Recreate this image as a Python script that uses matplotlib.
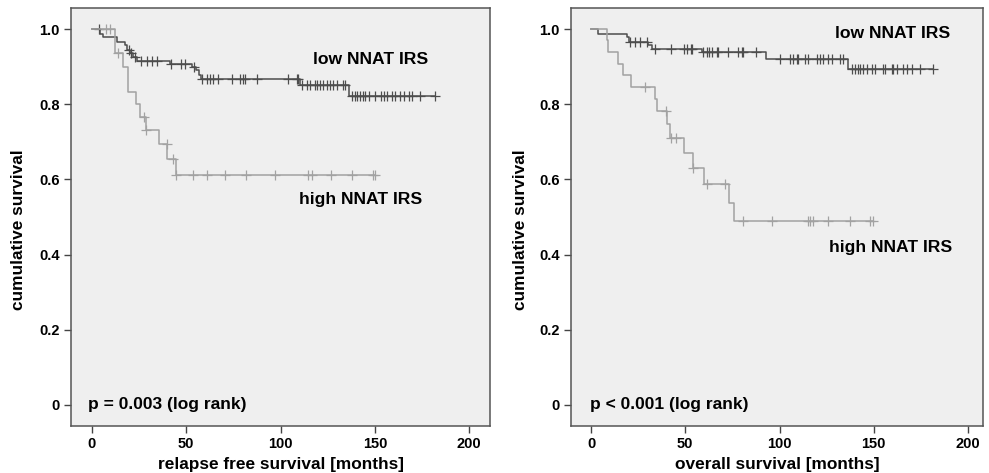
import numpy as np
import matplotlib.pyplot as plt

plt.rcParams['font.family'] = ['Liberation Sans', 'DejaVu Sans']
plt.rcParams['font.weight'] = 'bold'

# --- relapse free survival ---
rfs_low_t = [4.3, 6, 13.1, 17.5, 18.9, 20.5, 22, 24, 41.4, 53, 55, 57, 58, 110.3, 136.4]
rfs_low_s = [0.988, 0.980, 0.966, 0.957, 0.944, 0.935, 0.926, 0.915, 0.908, 0.899,
             0.890, 0.878, 0.867, 0.850, 0.823]
rfs_low_c = [3.9, 19.5, 21, 23, 26.3, 29, 31.7, 34.3, 42, 47.5, 49.5, 54, 58.2, 60.8, 62.6,
             64.4, 67, 74.1, 78.5, 80.3, 81.2, 87.4, 104.1, 108.6, 109.4, 111.2, 113.9,
             115.6, 118.3, 119.5, 121, 122.7, 124.5, 126.3, 128, 129.8, 133.3, 134.2,
             138, 139.2, 140.5, 142, 143.5, 145, 147, 150, 153, 154.7, 156.3, 159,
             160.8, 163.4, 165.2, 167.8, 169.6, 174, 182]

rfs_high_t = [12.5, 16.6, 19.3, 23.2, 25.5, 28.5, 35.5, 40.1, 44.6]
rfs_high_s = [0.935, 0.900, 0.833, 0.800, 0.766, 0.731, 0.695, 0.655, 0.611]
rfs_high_c = [7.8, 9.5, 14, 27.5, 28.6, 39.8, 42.8, 44.8, 53.7, 60.8, 70.6, 81.7, 97.1,
              114.8, 116.6, 126.6, 137.8, 149.2, 150.1]

# --- overall survival ---
os_low_t = [3.9, 18.9, 20.2, 30.4, 32.2, 59, 92.8, 136.5]
os_low_s = [0.988, 0.980, 0.966, 0.958, 0.947, 0.938, 0.920, 0.893]
os_low_c = [20.7, 23.3, 26, 29.5, 34, 42.4, 49.5, 50.8, 53.1, 53.7, 59.5, 61.4, 62.6, 64,
            66.7, 67.5, 72.8, 78.1, 80, 80.8, 87.5, 100.3, 105.6, 107.4, 109.1, 110,
            113.5, 115.3, 119.7, 121.5, 123.3, 125.9, 127.7, 132.1, 133.9, 138.3, 140,
            141.8, 142.7, 144.5, 146.3, 148.9, 150.7, 155.1, 156, 159.5, 160.4, 162.2,
            165.7, 167.5, 170.1, 174.5, 181.6]

os_high_t = [8.3, 9.2, 14.1, 17.1, 21.2, 34, 35, 40.1, 41.9, 49.3, 54, 60.1, 73.4, 75.9]
os_high_s = [0.971, 0.940, 0.908, 0.877, 0.846, 0.815, 0.782, 0.747, 0.711, 0.669,
             0.630, 0.588, 0.537, 0.488]
os_high_c = [28.6, 39.8, 42.4, 44.9, 54.2, 61.4, 71.1, 80.8, 95.9, 115.3, 116.2, 117.9,
             125.9, 137.4, 148, 149.8]

yticks = [0, 0.2, 0.4, 0.6, 0.8, 1.0]
ytick_labels = ['0', '0.2', '0.4', '0.6', '0.8', '1.0']
xticks = [0, 50, 100, 150, 200]

col_low = '#4d4d4d'
col_high = '#a2a2a2'


def km(ax, t, s, c, color):
    end = max(c[-1], t[-1])
    x = [0] + list(t) + [end]
    y = [1.0] + list(s) + [s[-1]]
    ax.step(x, y, where='post', color=color, lw=1.1)
    # survival value at each censor time
    idx = np.searchsorted(t, c, side='right')
    lv = np.array([1.0] + list(s))[idx]
    ax.plot(c, lv, linestyle='none', marker='+', ms=7, mew=0.9, color=color)


fig = plt.figure(figsize=(9.89, 4.73), dpi=100)
ax1 = fig.add_axes([0.0718, 0.0994, 0.4237, 0.8837])
ax2 = fig.add_axes([0.5774, 0.0994, 0.4166, 0.8837])

km(ax1, rfs_low_t, rfs_low_s, rfs_low_c, col_low)
km(ax1, rfs_high_t, rfs_high_s, rfs_high_c, col_high)
km(ax2, os_low_t, os_low_s, os_low_c, col_low)
km(ax2, os_high_t, os_high_s, os_high_c, col_high)

ax1.set_xlim(-11, 211)
ax2.set_xlim(-10.6, 208)
for ax in (ax1, ax2):
    ax.set_ylim(-0.056, 1.056)
    ax.set_facecolor('#efefef')
    ax.set_xticks(xticks)
    ax.set_yticks(yticks)
    ax.set_yticklabels(ytick_labels)
    ax.tick_params(labelsize=10.5, length=5, width=1, color='#444444', pad=3)
    for sp in ax.spines.values():
        sp.set_color('#555555')
        sp.set_linewidth(1.1)
    ax.set_ylabel('cumulative survival', fontsize=12.4, fontweight='bold')

ax1.yaxis.set_label_coords(-0.107, 0.47)
ax2.yaxis.set_label_coords(-0.104, 0.47)

ax1.set_xlabel('relapse free survival [months]', fontsize=12.4, fontweight='bold', labelpad=4.5)
ax2.set_xlabel('overall survival [months]', fontsize=12.4, fontweight='bold', labelpad=4.5)

ax1.text(117, 0.92, 'low NNAT IRS', fontsize=12.6, fontweight='bold', va='center')
ax1.text(110, 0.547, 'high NNAT IRS', fontsize=12.6, fontweight='bold', va='center')
ax1.text(-2, 0.0, 'p = 0.003 (log rank)', fontsize=12.5, fontweight='bold', va='center')

ax2.text(129.4, 0.989, 'low NNAT IRS', fontsize=12.6, fontweight='bold', va='center')
ax2.text(126.3, 0.419, 'high NNAT IRS', fontsize=12.6, fontweight='bold', va='center')
ax2.text(-0.5, 0.0, 'p < 0.001 (log rank)', fontsize=12.5, fontweight='bold', va='center')

fig.savefig('out.png', dpi=100)
